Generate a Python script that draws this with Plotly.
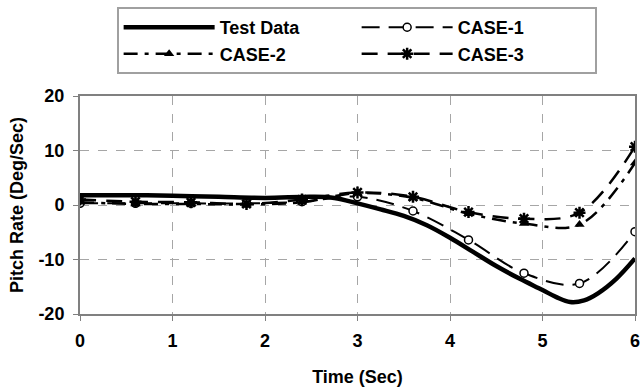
import plotly.graph_objects as go

# Test data (smooth curve)
test_time = [0, 0.5, 1.0, 1.5, 2.0, 2.5, 2.75, 3.0, 3.25, 3.5, 3.75, 4.0, 4.25,
             4.5, 4.75, 5.0, 5.15, 5.3, 5.45, 5.6, 5.8, 6.0]
test_rate = [1.8, 1.8, 1.7, 1.5, 1.3, 1.5, 1.3, 0.3, -0.8, -2.0, -3.7, -6.0, -8.6,
             -11.2, -13.5, -15.6, -16.9, -17.8, -17.5, -16.2, -13.5, -9.8]

case_time = [0, 0.6, 1.2, 1.8, 2.4, 3.0, 3.6, 4.2, 4.8, 5.4, 6.0]
case1_rate = [0.3, 0.3, 0.3, 0.3, 0.6, 1.5, -1.1, -6.4, -12.5, -14.4, -4.9]
case2_rate = [0.5, 0.2, 0.2, 0.1, 0.5, 2.2, 1.3, -1.6, -3.4, -3.6, 7.7]
case3_rate = [1.0, 0.6, 0.5, 0.2, 1.0, 2.3, 1.5, -1.3, -2.5, -1.4, 10.7]

x_ticks = [0, 1, 2, 3, 4, 5, 6]
y_ticks = [-20, -10, 0, 10, 20]

FONT = "Liberation Sans, Arial, sans-serif"

fig = go.Figure()
fig.add_trace(go.Scatter(
    x=test_time, y=test_rate, name="<b>Test Data</b>", mode="lines",
    line=dict(color="black", width=4.5, shape="spline")))
fig.add_trace(go.Scatter(
    x=case_time, y=case1_rate, name="<b>CASE-1</b>", mode="lines+markers",
    line=dict(color="black", width=2, dash="18px,9px", shape="spline"),
    marker=dict(symbol="circle", size=8, color="white",
                line=dict(color="black", width=1.5))))
fig.add_trace(go.Scatter(
    x=case_time, y=case2_rate, name="<b>CASE-2</b>", mode="lines+markers",
    line=dict(color="black", width=2.5, dash="14px,7px,4px,7px", shape="spline"),
    marker=dict(symbol="triangle-up", size=9, color="black")))
fig.add_trace(go.Scatter(
    x=case_time, y=case3_rate, name="<b>CASE-3</b>", mode="lines+markers",
    line=dict(color="black", width=2.5, dash="16px,10px", shape="spline"),
    marker=dict(symbol="asterisk-open", size=10, color="black",
                line=dict(color="black", width=2.5))))

axis_common = dict(
    showline=True, linecolor="#808080", linewidth=2, mirror=True,
    showgrid=True, gridcolor="#a6a6a6", gridwidth=1, griddash="dash",
    zeroline=False, ticks="outside", ticklen=5, tickcolor="#808080", tickwidth=1,
    tickfont=dict(family=FONT, size=18, color="black"),
    automargin=False,
)

fig.update_xaxes(range=[0, 6], tickvals=x_ticks,
                 ticktext=[f"<b>{v}</b>" for v in x_ticks],
                 ticklabelstandoff=4,
                 title=dict(text="<b>Time (Sec)</b>",
                            font=dict(family=FONT, size=18, color="black"),
                            standoff=21),
                 **axis_common)
fig.update_yaxes(range=[-20, 20], tickvals=y_ticks,
                 ticktext=[f"<b>{v}</b>" for v in y_ticks],
                 ticklabelstandoff=5,
                 title=dict(text="<b>Pitch Rate (Deg/Sec)</b>",
                            font=dict(family=FONT, size=18, color="black"),
                            standoff=10),
                 **axis_common)

fig.update_layout(
    width=644, height=390,
    margin=dict(l=80, r=9, t=96, b=76, autoexpand=False),
    plot_bgcolor="white", paper_bgcolor="white",
    font=dict(family=FONT, color="black"),
    legend=dict(
        orientation="h", x=0.066, xanchor="left", y=1.408, yanchor="top",
        entrywidth=132, entrywidthmode="pixels", itemwidth=91,
        bordercolor="#a0a0a0", borderwidth=2, bgcolor="white",
        font=dict(family=FONT, size=18, color="black"),
        traceorder="normal",
    ),
)

fig.write_html("out.html", config={"displayModeBar": False},
               post_script="document.body.style.margin='0';")
